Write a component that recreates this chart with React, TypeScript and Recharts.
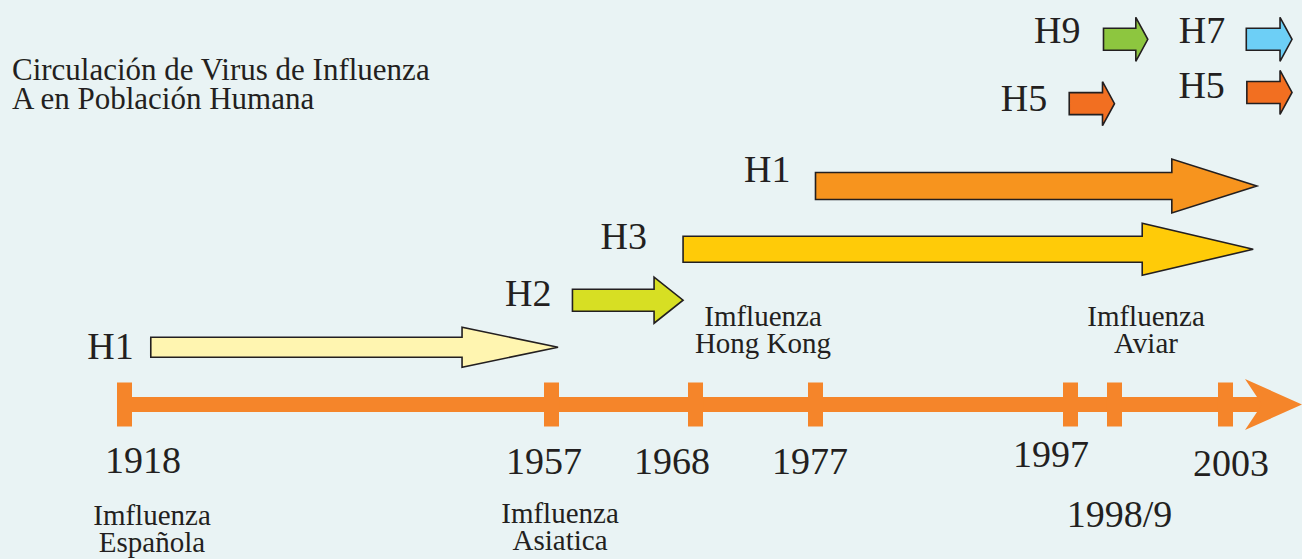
import React from 'react'
import { ComposedChart, Bar, XAxis, YAxis, ReferenceLine, ReferenceDot } from 'recharts'

// timeline ticks
const TICK_YEARS = [1918, 1957, 1968, 1977, 1997, 1999, 2003]
const TICK_LABELS = ['1918', '1957', '1968', '1977', '1997', '1998/9', '2003']

// virus subtype arrows (years of circulation, lane above the timeline)
const SUBTYPES = ['H1', 'H2', 'H3', 'H1', 'H5', 'H9', 'H7', 'H5']
const FROM_YEAR = [1920.4, 1958.6, 1967.05, 1977, 1996.9, 1998.5, 2003.75, 2003.77]
const TO_YEAR = [1957.5, 1967.05, 2004.0, 2004.13, 1999.0, 2000.2, 2005.4, 2005.4]
const LANE = [1.03, 1.87, 2.78, 3.91, 5.38, 6.53, 6.53, 5.58]

// pandemics
const EVENT_YEARS = [1918, 1957, 1968, 1997]
const EVENT_LINES = [
  ['Imfluenza', 'Española'],
  ['Imfluenza', 'Asiatica'],
  ['Imfluenza', 'Hong Kong'],
  ['Imfluenza', 'Aviar'],
]

// the drawing is schematic: years are placed on a piecewise axis
const AXIS_YEARS = [1917.31, 1918, 1957, 1968, 1977, 1997, 1999, 2003, 2005.76]
const AXIS_UNITS = [0, 6.33, 366.67, 488.19, 589.45, 804.64, 841.77, 935.44, 1000]

function warp(year: number) {
  const n = AXIS_YEARS.length
  let i = 0
  while (i < n - 2 && year > AXIS_YEARS[i + 1]) i++
  const t = (year - AXIS_YEARS[i]) / (AXIS_YEARS[i + 1] - AXIS_YEARS[i])
  return AXIS_UNITS[i] + t * (AXIS_UNITS[i + 1] - AXIS_UNITS[i])
}

const rows = SUBTYPES.map((name, i) => ({ id: i, name, from: FROM_YEAR[i], to: TO_YEAR[i], lane: LANE[i] }))

const INK = '#231f20'
const ORANGE = '#f5852a'
const SERIF = '"Liberation Serif", "Times New Roman", serif'

const ARROW_STYLE = [
  { fill: '#fff5b0', body: 20, head: 40, tip: 96, gap: 17, dy: 12 },
  { fill: '#d7df23', body: 22, head: 46, tip: 29, gap: 21, dy: 6 },
  { fill: '#ffcb08', body: 26, head: 52, tip: 111, gap: 36, dy: 0 },
  { fill: '#f7941e', body: 27, head: 54, tip: 85, gap: 25, dy: -3.5 },
  { fill: '#f26f21', body: 22, head: 44, tip: 12, gap: 22, dy: 7.5 },
  { fill: '#8dc63f', body: 22, head: 44, tip: 12, gap: 23, dy: 4 },
  { fill: '#6dcff6', body: 22, head: 44, tip: 12, gap: 21, dy: 4 },
  { fill: '#f26f21', body: 22, head: 44, tip: 12, gap: 22, dy: 6 },
]

const TICK_STYLE = [
  { dx: 18.5, dy: 68.5 },
  { dx: -7.5, dy: 69.5 },
  { dx: -23.5, dy: 69.5 },
  { dx: -5.5, dy: 69.5 },
  { dx: -19.5, dy: 62.5 },
  { dx: 5, dy: 122.5 },
  { dx: 5.5, dy: 71.5 },
]

const EVENT_STYLE = [
  { dx: 27.5, dy: 120.5 },
  { dx: 8.5, dy: 118.5 },
  { dx: 67.5, dy: -78.5 },
  { dx: 75.5, dy: -78.5 },
]

function Arrow(props: any) {
  const { x, y, width, height, payload } = props
  const s = ARROW_STYLE[payload.id]
  const cy = y + height / 2
  const x2 = x + width
  const hx = x2 - s.tip
  const pts = [
    [x, cy - s.body / 2], [hx, cy - s.body / 2], [hx, cy - s.head / 2], [x2, cy],
    [hx, cy + s.head / 2], [hx, cy + s.body / 2], [x, cy + s.body / 2],
  ].map(p => p.join(',')).join(' ')
  return (
    <g>
      <polygon points={pts} fill={s.fill} stroke={INK} strokeWidth={1.6} />
      <text x={x - s.gap} y={cy + s.dy} textAnchor="end" fontFamily={SERIF} fontSize={38} fill={INK}>
        {payload.name}
      </text>
    </g>
  )
}

function YearTick(props: any) {
  const { x, y, payload } = props
  const i = TICK_YEARS.findIndex(yr => Math.abs(warp(yr) - payload.value) < 1e-6)
  if (i < 0) return null
  const s = TICK_STYLE[i]
  return (
    <g>
      <rect x={x - 7.5} y={y - 22} width={15} height={44} fill={ORANGE} />
      <text x={x + s.dx} y={y + s.dy} textAnchor="middle" fontFamily={SERIF} fontSize={38} fill={INK}>
        {TICK_LABELS[i]}
      </text>
    </g>
  )
}

function Timeline(props: any) {
  const { x1, y1, x2 } = props
  const notch = x2 - 40
  const back = x2 - 57
  return (
    <g>
      <rect x={x1} y={y1 - 7.5} width={notch - x1 + 3} height={15} fill={ORANGE} />
      <polygon
        points={`${back},${y1 - 25.5} ${x2},${y1} ${back},${y1 + 25.5} ${notch},${y1}`}
        fill={ORANGE}
      />
    </g>
  )
}

function EventLabel(props: any) {
  const { cx, cy, idx } = props
  const s = EVENT_STYLE[idx]
  return (
    <text x={cx + s.dx} y={cy + s.dy} textAnchor="middle" fontFamily={SERIF} fontSize={29} fill={INK}>
      {EVENT_LINES[idx].map((line, k) => (
        <tspan key={k} x={cx + s.dx} dy={k === 0 ? 0 : 27}>{line}</tspan>
      ))}
    </text>
  )
}

export default function App() {
  return (
    <div style={{ position: 'absolute', left: 0, top: 0, width: 1302, height: 559, background: '#e9f3f4' }}>
      <ComposedChart
        width={1302}
        height={559}
        data={rows}
        layout="vertical"
        margin={{ top: 12.5, right: 0, bottom: 0, left: 117 }}
      >
        <XAxis
          type="number"
          domain={[0, 1000]}
          ticks={TICK_YEARS.map(warp)}
          interval={0}
          axisLine={false}
          tickLine={false}
          tickSize={0}
          tickMargin={0}
          height={154.5}
          tick={<YearTick />}
        />
        <YAxis type="number" dataKey="lane" domain={[0, 7]} reversed hide width={0} />
        <ReferenceLine y={0} ifOverflow="visible" shape={(p: any) => <Timeline {...p} />} />
        <Bar
          dataKey={(d: any) => [warp(d.from), warp(d.to)]}
          barSize={20}
          shape={(p: any) => <Arrow {...p} />}
          isAnimationActive={false}
        />
        {EVENT_YEARS.map((yr, i) => (
          <ReferenceDot
            key={i}
            x={warp(yr)}
            y={0}
            r={0}
            ifOverflow="visible"
            shape={(p: any) => <EventLabel {...p} idx={i} />}
          />
        ))}
      </ComposedChart>
      <div style={{
        position: 'absolute',
        left: 12,
        top: 54.5,
        fontFamily: SERIF,
        fontSize: 31,
        lineHeight: '29px',
        color: INK,
        whiteSpace: 'nowrap',
      }}>
        Circulación de Virus de Influenza<br />A en Población Humana
      </div>
    </div>
  )
}
